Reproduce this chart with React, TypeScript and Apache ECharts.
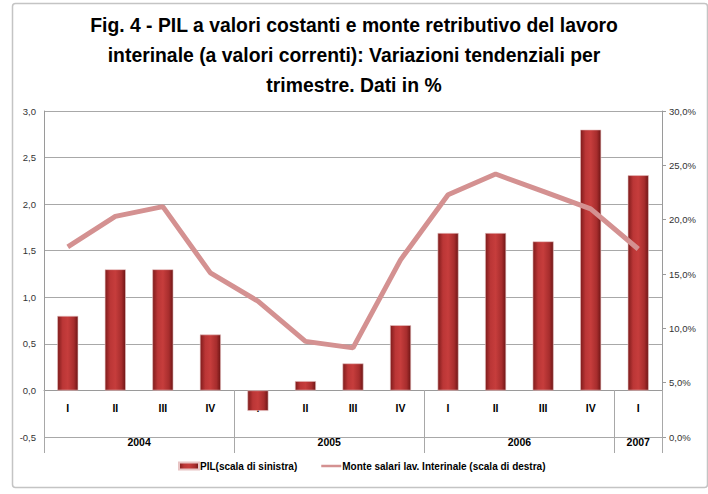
import React, { useEffect, useRef } from "react";
import * as echarts from "echarts";

const quarters = ["I", "II", "III", "IV", "I", "II", "III", "IV", "I", "II", "III", "IV", "I"];
const years = ["2004", "2005", "2006", "2007"];
const yearSpans = [4, 4, 4, 1];
const pil = [0.8, 1.3, 1.3, 0.6, -0.22, 0.1, 0.29, 0.7, 1.69, 1.69, 1.6, 2.8, 2.31];
const monteSalari = [17.5, 20.3, 21.2, 15.1, 12.5, 8.8, 8.2, 16.3, 22.3, 24.2, 22.6, 21.0, 17.3];
const leftTicks = { min: -0.5, max: 3, interval: 0.5 };
const rightTicks = { min: 0, max: 30, interval: 5 };
const titleLines = [
  "Fig. 4 - PIL a valori costanti e monte retributivo del lavoro",
  "interinale (a valori correnti): Variazioni tendenziali per",
  "trimestre. Dati in %",
];
const legendNames = ["PIL(scala di sinistra)", "Monte salari lav. Interinale (scala di destra)"];

const FONT = "'Liberation Sans', Arial, sans-serif";

function measure(text: string, font: string): number {
  const c = document.createElement("canvas").getContext("2d");
  if (!c) return text.length * 10;
  c.font = font;
  return c.measureText(text).width;
}

export default function App() {
  const ref = useRef<HTMLDivElement>(null);
  useEffect(() => {
    if (!ref.current) return;
    const chart = echarts.init(ref.current, undefined, { renderer: "svg" });

    const gridTop = 111;
    const gridBottom = 57;
    const gridHeight = 494 - gridTop - gridBottom;
    // lift the quarter axis from the grid bottom to the zero line of the left scale
    const zeroLift = ((0 - leftTicks.min) / (leftTicks.max - leftTicks.min)) * gridHeight;

    const halfSlots: string[] = [];
    for (let i = 0; i <= quarters.length * 2; i++) halfSlots.push(String(i));
    const tickIdx: number[] = [0];
    const labelIdx: Record<number, string> = {};
    let acc = 0;
    yearSpans.forEach((s, k) => {
      labelIdx[acc * 2 + s] = years[k];
      acc += s;
      tickIdx.push(acc * 2);
    });

    const barColor = new echarts.graphic.LinearGradient(0, 0, 1, 0, [
      { offset: 0, color: "#7e1b1b" },
      { offset: 0.25, color: "#bb3636" },
      { offset: 0.5, color: "#c63d3c" },
      { offset: 0.8, color: "#a72d2d" },
      { offset: 1, color: "#6e1515" },
    ]);

    const titleFont = "bold 21px 'Liberation Sans'";
    const w1 = measure(titleLines[0], titleFont);
    const titleScale = 528 / w1;
    const titleGraphics = titleLines.map((t, i) => ({
      type: "text",
      x: 354,
      y: 25 + i * 30,
      scaleX: titleScale,
      style: {
        text: t,
        fontFamily: FONT,
        fontWeight: "bold",
        fontSize: 21,
        fill: "#000",
        textAlign: "center",
        textVerticalAlign: "middle",
      },
      silent: true,
    }));

    chart.setOption({
      animation: false,
      textStyle: { fontFamily: FONT },
      graphic: [
        {
          type: "rect",
          left: 10,
          top: 1,
          shape: { width: 695, height: 484, r: 3 },
          style: { fill: "none", stroke: "#c4c4c4", lineWidth: 1.5 },
          silent: true,
          z: -1,
        },
        ...titleGraphics,
      ],
      legend: {
        bottom: 18,
        left: 173,
        itemGap: 24,
        itemWidth: 20,
        itemHeight: 7,
        textStyle: { fontFamily: FONT, fontWeight: "bold", fontSize: 10, color: "#000", padding: [0, 0, 0, -4] },
        data: [
          { name: legendNames[0], icon: "rect" },
          { name: legendNames[1], icon: "path://M0,0 L20,0 L20,2.5 L0,2.5 Z" },
        ],
      },
      grid: { left: 44, right: 46, top: gridTop, bottom: gridBottom },
      xAxis: [
        {
          type: "category",
          data: quarters,
          position: "bottom",
          offset: -zeroLift,
          axisLine: { onZero: false, lineStyle: { color: "#9a9a9a" } },
          axisTick: { show: false },
          axisLabel: { fontFamily: FONT, fontWeight: "bold", fontSize: 10.5, color: "#000", margin: 12, interval: 0 },
        },
        {
          type: "category",
          data: halfSlots,
          boundaryGap: false,
          position: "bottom",
          offset: 16,
          axisLine: { show: false, onZero: false },
          axisTick: {
            show: true,
            inside: true,
            length: 63,
            interval: (i: number) => tickIdx.includes(i),
            lineStyle: { color: "#a8a8a8" },
          },
          axisLabel: {
            inside: true,
            margin: 6,
            interval: (i: number) => labelIdx[i] !== undefined,
            formatter: (_v: string, i: number) => labelIdx[i] || "",
            fontFamily: FONT,
            fontWeight: "bold",
            fontSize: 10.5,
            color: "#000",
          },
        },
      ],
      yAxis: [
        {
          type: "value",
          min: leftTicks.min,
          max: leftTicks.max,
          interval: leftTicks.interval,
          axisLine: { show: true, onZero: false, lineStyle: { color: "#9a9a9a" } },
          axisTick: { show: false },
          splitLine: { lineStyle: { color: "#a8a8a8" } },
          axisLabel: {
            fontFamily: FONT,
            fontSize: 9.5,
            color: "#333",
            margin: 8,
            formatter: (v: number) => v.toFixed(1).replace(".", ","),
          },
        },
        {
          type: "value",
          min: rightTicks.min,
          max: rightTicks.max,
          interval: rightTicks.interval,
          position: "right",
          axisLine: { show: true, onZero: false, lineStyle: { color: "#9a9a9a" } },
          axisTick: { show: true, length: 4, lineStyle: { color: "#9a9a9a" } },
          splitLine: { show: false },
          axisLabel: {
            fontFamily: FONT,
            fontSize: 9.5,
            color: "#333",
            margin: 7,
            formatter: (v: number) => v.toFixed(1).replace(".", ",") + "%",
          },
        },
      ],
      series: [
        {
          name: legendNames[0],
          type: "bar",
          xAxisIndex: 0,
          yAxisIndex: 0,
          data: pil,
          barWidth: 21,
          itemStyle: { color: barColor, borderColor: "#e8c4c4", borderWidth: 0.6 },
        },
        {
          name: legendNames[1],
          type: "line",
          xAxisIndex: 0,
          yAxisIndex: 1,
          data: monteSalari,
          symbol: "none",
          lineStyle: { color: "#d49191", width: 5 },
          itemStyle: { color: "#d49191" },
          z: 3,
        },
      ],
    });
    return () => chart.dispose();
  }, []);
  return (
    <div
      ref={ref}
      style={{ position: "fixed", left: 0, top: 0, width: 708, height: 494, background: "#fff" }}
    />
  );
}
